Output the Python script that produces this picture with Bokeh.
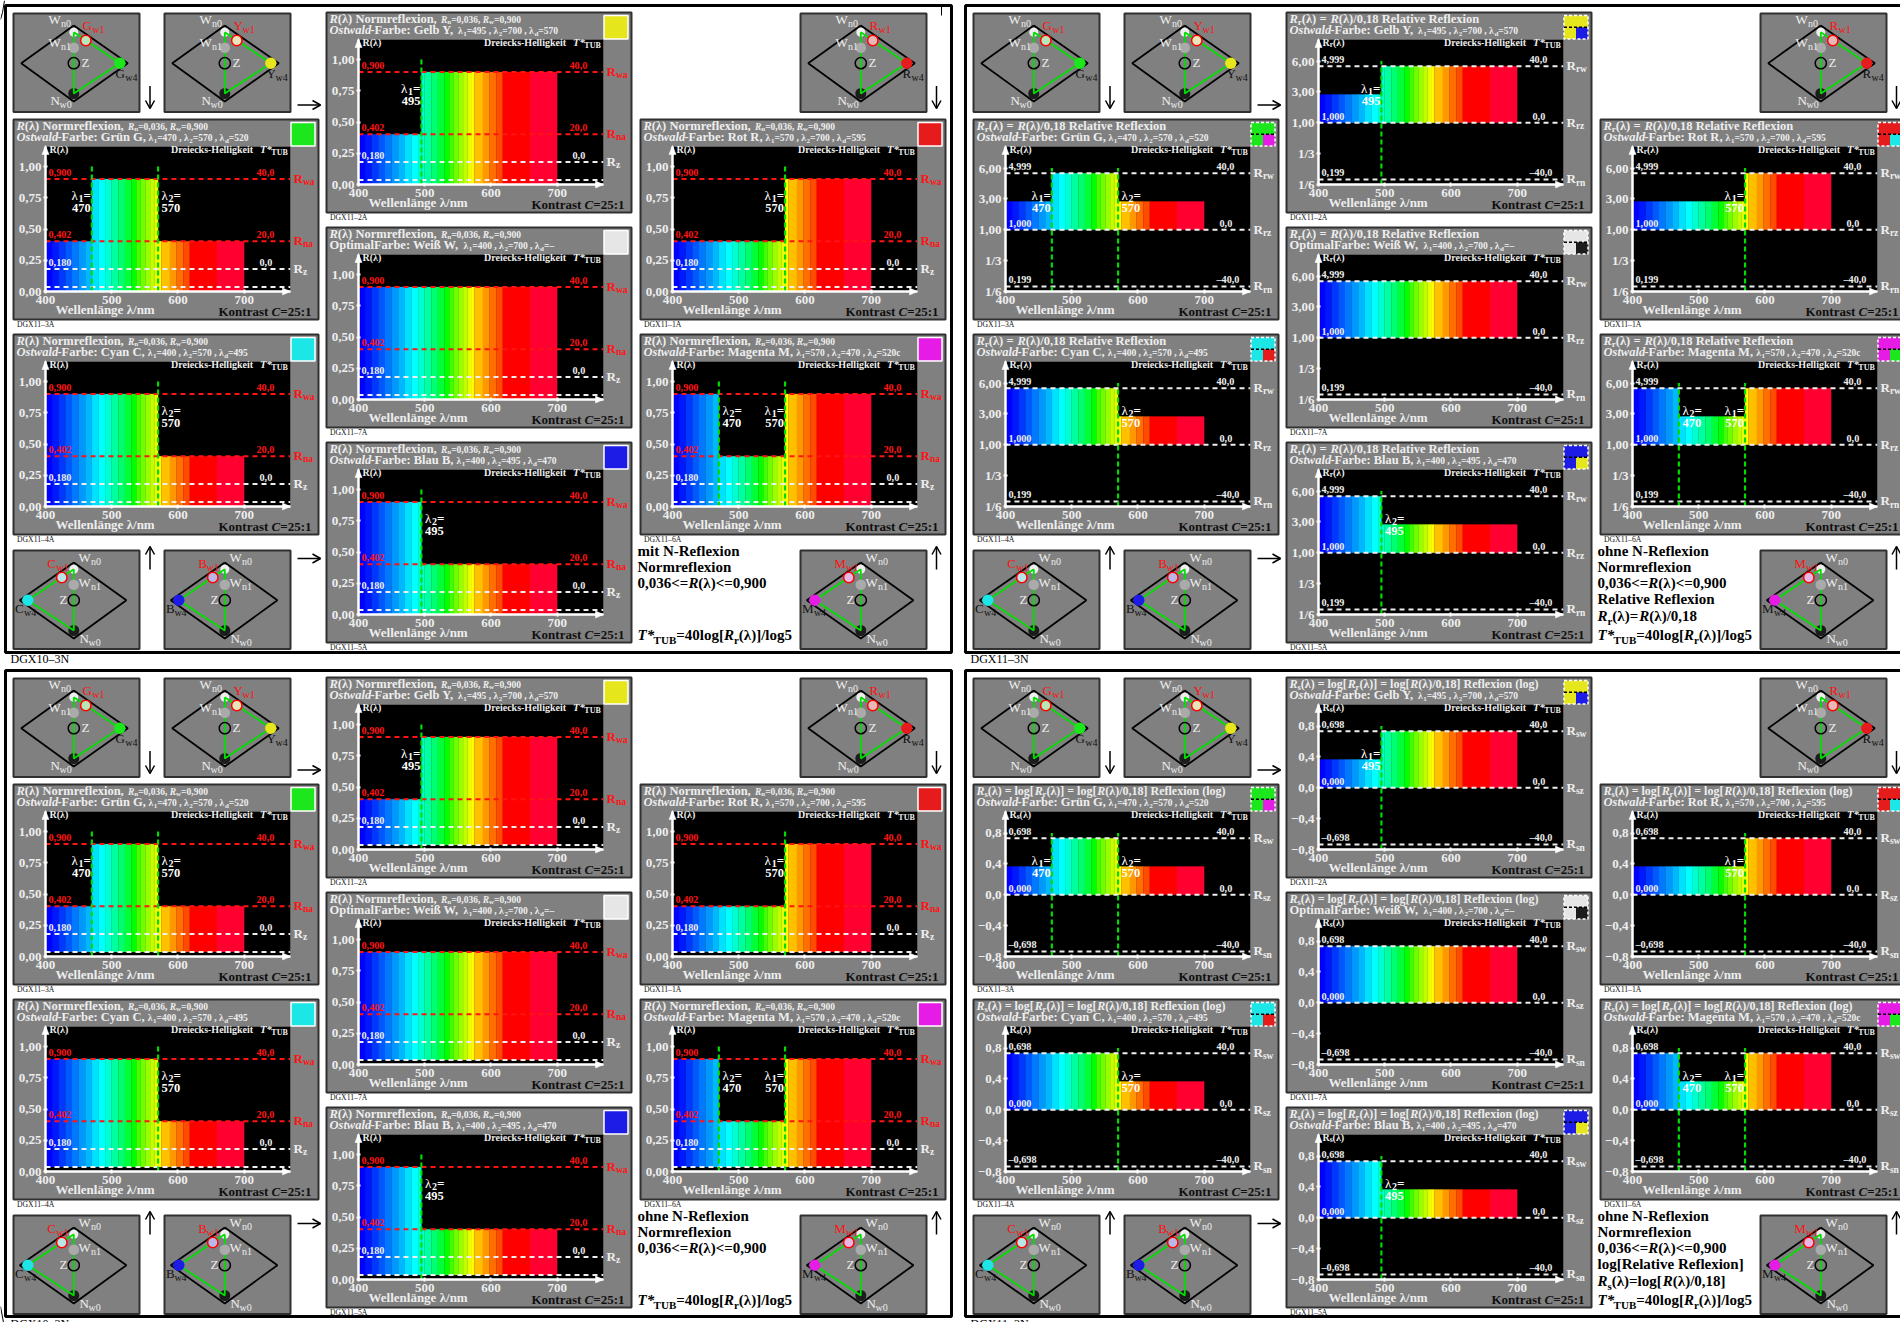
from bokeh.plotting import figure
from bokeh.layouts import column
from bokeh.models import ColumnDataSource, FixedTicker, Range1d
from bokeh.core.properties import value
from bokeh.embed import file_html
from bokeh.resources import INLINE

FONT = "Liberation Serif"
LIGHT = "#eeeeee"

# ---------- data ----------
BAND_EDGES = [400, 410, 420, 430, 440, 450, 460, 470, 480, 490, 500, 510, 520, 530, 537, 544, 551,
              558, 565, 570, 575, 588, 598, 608, 618, 659, 700]
BAND_COLORS = ["#0000ff", "#0018ff", "#0038ff", "#0058ff", "#0078ff", "#0098ff", "#00b8ff", "#00e0ff",
               "#00ffff", "#00ffd0", "#00ffa0", "#00ff70", "#00ff38", "#00ff00", "#40ff00", "#70ff00",
               "#98ff00", "#c0ff00", "#e8ff00", "#ffff00", "#ffc000", "#ff9800", "#ff7000", "#ff4c00",
               "#ff0000", "#ff0030"]

CHART_IDS = ["3A", "4A", "2A", "7A", "5A", "1A", "6A"]
COLOR_NAMES = {"3A": "Grün G", "4A": "Cyan C", "2A": "Gelb Y", "7A": "Weiß W", "5A": "Blau B", "1A": "Rot R", "6A": "Magenta M"}
LAMBDA_1 = {"3A": "470", "4A": "400", "2A": "495", "7A": "400", "5A": "400", "1A": "570", "6A": "570"}
LAMBDA_2 = {"3A": "570", "4A": "570", "2A": "700", "7A": "700", "5A": "495", "1A": "700", "6A": "470"}
LAMBDA_D = {"3A": "520", "4A": "495", "2A": "570", "7A": "–", "5A": "470", "1A": "595", "6A": "520c"}
BREAKS = {"3A": [400, 470, 570, 700], "4A": [400, 570, 700], "2A": [400, 495, 700], "7A": [400, 700],
          "5A": [400, 495, 700], "1A": [400, 570, 700], "6A": [400, 470, 570, 700]}
LEVELS = {"3A": "LHL", "4A": "HL", "2A": "LH", "7A": "H", "5A": "HL", "1A": "LH", "6A": "HLH"}
SWATCH = {"3A": "#1ce61c", "4A": "#1ce6e6", "2A": "#e6e61c", "7A": "#e6e6e6", "5A": "#1c1ce6", "1A": "#e61c1c", "6A": "#e61ce6"}
COMPLEMENT = {"3A": "#e61ce6", "4A": "#e61c1c", "2A": "#1c1ce6", "7A": "#1c1c1c", "5A": "#e6e61c", "1A": "#1ce6e6", "6A": "#1ce61c"}
# wavelength markers: (wavelength, label name, label side)
MARKS = {"3A": [(470, "1", "L"), (570, "2", "R")], "4A": [(570, "2", "R")], "2A": [(495, "1", "L")], "7A": [],
         "5A": [(495, "2", "R")], "1A": [(570, "1", "L")], "6A": [(470, "2", "R"), (570, "1", "L")]}

NORM_TICKS = [0.0, 0.25, 0.5, 0.75, 1.0]
NORM_LABELS = ["0,00", "0,25", "0,50", "0,75", "1,00"]
NORM_HIGH, NORM_LOW, NORM_MID, NORM_MIN = 0.900, 0.402, 0.180, 0.036
LOG_TICKS = [-0.76, -0.38, 0.0, 0.38, 0.76]
REL_LABELS = ["1/6", "1/3", "1,00", "3,00", "6,00"]
LOG_LABELS = ["−0,8", "−0,4", "0,0", "0,4", "0,8"]
LOG_HIGH, LOG_LOW, LOG_MIN = 0.698, 0.349, -0.698

DIAMOND_X = [60.3, 114.3, 60.3, 7.7, 60.3]
DIAMOND_Y = [12, 49.7, 88, 49.7, 12]
TOP_COLORS = [("G", "#1ce61c", "#b8e6b8"), ("Y", "#e6e61c", "#e6e6b8"), ("R", "#e61c1c", "#e6b8b8")]
BOTTOM_COLORS = [("C", "#1ce6e6", "#b8e6e6"), ("B", "#1c1ce6", "#b8b8e6"), ("M", "#e61ce6", "#e6b8e6")]

NOTES = {
    0: [[("mit N-Reflexion", "b")], [("Normreflexion", "b")], [("0,036<=", "b"), ("R", "i"), ("(λ)<=0,900", "b")], [], [], None],
    1: [[("ohne N-Reflexion", "b")], [("Normreflexion", "b")], [("0,036<=", "b"), ("R", "i"), ("(λ)<=0,900", "b")],
        [("Relative Reflexion", "b")], [("R", "i"), ("r", "s"), ("(λ)=", "b"), ("R", "i"), ("(λ)/0,18", "b")], None],
    2: [[("ohne N-Reflexion", "b")], [("Normreflexion", "b")], [("0,036<=", "b"), ("R", "i"), ("(λ)<=0,900", "b")], [], [], None],
    3: [[("ohne N-Reflexion", "b")], [("Normreflexion", "b")], [("0,036<=", "b"), ("R", "i"), ("(λ)<=0,900", "b")],
        [("log[Relative Reflexion]", "b")], [("R", "i"), ("s", "s"), ("(λ)=log[", "b"), ("R", "i"), ("(λ)/0,18]", "b")], None],
}
QUAD_NAMES = ["DGX10–3N", "DGX11–3N", "DGX10–3N", "DGX11–3N"]

# ---------- layout constants ----------
QDX, QDY = 960, 665
COL_X = {"3A": 13, "4A": 13, "2A": 326, "7A": 326, "5A": 326, "1A": 640, "6A": 640}
COL_Y = {"3A": 119, "4A": 334, "2A": 12, "7A": 227, "5A": 442, "1A": 119, "6A": 334}
PW, PH = 305, 200
ML, MT, FW, FH = 32, 27, 245, 145
XMAX = 770
GRAY = "#808080"
BORDER = "#303030"
BASELINE_FIX = 0.36

# ---------- text machinery ----------
AFM = dict(zip("ABCDEFGHIJKLMNOPQRSTUVWXYZ",
               [722, 667, 722, 722, 667, 611, 778, 778, 389, 500, 778, 667, 944, 722, 778, 611, 778, 722, 556, 667, 722, 722, 1000, 722, 722, 667]))
AFM.update(zip("abcdefghijklmnopqrstuvwxyz",
               [500, 556, 444, 556, 444, 333, 500, 556, 278, 333, 556, 278, 833, 556, 500, 556, 556, 444, 389, 333, 556, 500, 722, 500, 500, 444]))
AFM.update({" ": 250, ",": 250, ".": 250, "=": 570, "(": 333, ")": 333, "/": 278, ":": 333, "-": 333, "ß": 556, "ä": 500,
            "λ": 560, "*": 500, "<": 570, "[": 333, "]": 333, "–": 500, "−": 570})


def tw(s, size, style="bold"):
    k = 0.92 if "italic" in style else (0.97 if style == "normal" else 1.0)
    return sum(AFM.get(c, 500) for c in s) * size / 1000.0 * k


T = dict(x=[], y=[], t=[], sz=[], st=[], col=[])


def put(x, y, s, size, style="bold", color=LIGHT):
    T["x"].append(round(x, 1))
    T["y"].append(round(y - BASELINE_FIX * size, 1))
    T["t"].append(s)
    T["sz"].append(f"{size}px")
    T["st"].append(style)
    T["col"].append(color)


def runs(x, y, items, align="left"):
    """items: (text, size, style, color, baseline shift)"""
    if align == "right":
        x -= sum(tw(i[0], i[1], i[2]) for i in items)
    for s, size, style, color, dy in items:
        put(x, y + dy, s, size, style, color)
        x += tw(s, size, style)
    return x


# ---------- overlay ----------
ov = figure(width=1900, height=1322, x_range=Range1d(0, 1900), y_range=Range1d(1322, 0),
            output_backend="svg", toolbar_location=None, min_border=0, outline_line_color=None,
            background_fill_color=None, border_fill_color=None, x_axis_location=None, y_axis_location=None,
            frame_align=False, styles={"position": "absolute", "left": "0px", "top": "0px"})
ov.grid.visible = False

panels = dict(l=[], r=[], t=[], b=[])
tri_xs, tri_ys = [], []
swatch = dict(l=[], r=[], t=[], b=[], c=[])
outline_solid = dict(l=[], r=[], t=[], b=[])
outline_dash = dict(l=[], r=[], t=[], b=[])
mids = dict(xs=[], ys=[])
charts = []


def chart(q, cid, ox, oy):
    x0, y0 = COL_X[cid] + ox, COL_Y[cid] + oy
    w = min(PW, 1900 - x0)
    is_log = q in (1, 3)
    if is_log:
        ymin, ymax = -0.76, 1.026
        ticks, labels = LOG_TICKS, (REL_LABELS if q == 1 else LOG_LABELS)
        hi, lo, base = LOG_HIGH, LOG_LOW, 0.0
    else:
        ymin, ymax = 0.0, 1.16
        ticks, labels = NORM_TICKS, NORM_LABELS
        hi, lo, base = NORM_HIGH, NORM_LOW, (NORM_MIN if q == 2 else 0.0)
    p = figure(width=w, height=PH, x_range=Range1d(400, XMAX), y_range=Range1d(ymin, ymax), output_backend="svg",
               toolbar_location=None, min_border_left=ML, min_border_top=MT, min_border_right=w - ML - FW,
               min_border_bottom=PH - MT - FH, background_fill_color="#000000", border_fill_color=GRAY,
               outline_line_color=None, frame_align=False,
               styles={"position": "absolute", "left": f"{x0}px", "top": f"{y0}px"})
    p.grid.visible = False
    for ax in (p.xaxis[0], p.yaxis[0]):
        ax.axis_line_color = "#ffffff"
        ax.axis_line_width = 2.5
        ax.major_tick_line_color = "#ffffff"
        ax.major_tick_line_width = 2
        ax.major_tick_in = 2
        ax.major_tick_out = 2
        ax.minor_tick_line_color = None
        ax.major_label_text_font = FONT
        ax.major_label_text_font_style = "bold"
        ax.major_label_text_font_size = "13px"
        ax.major_label_text_color = LIGHT
        ax.major_label_standoff = 2
    p.xaxis[0].ticker = FixedTicker(ticks=[400, 500, 600, 700])
    p.xaxis[0].major_label_overrides = {400: "400", 500: "500", 600: "600", 700: "700"}
    p.yaxis[0].ticker = FixedTicker(ticks=ticks)
    p.yaxis[0].major_label_overrides = dict(zip(ticks, labels))

    # spectral bands
    left, right, top, cols = [], [], [], []
    br, lv = BREAKS[cid], LEVELS[cid]
    for i, c in enumerate(BAND_COLORS):
        for j, code in enumerate(lv):
            a, b = max(BAND_EDGES[i], br[j]), min(BAND_EDGES[i + 1], br[j + 1])
            if b > a:
                left.append(a)
                right.append(b)
                top.append(hi if code == "H" else lo)
                cols.append(c)
    p.quad(left=left, right=right, top=top, bottom=base, fill_color=cols, line_color=cols, line_width=0.3)

    def py(v):
        return y0 + MT + (ymax - v) * FH / (ymax - ymin)

    R_LEFT = x0 + 35
    R_TAG = x0 + 280
    R_NUM = x0 + 243
    red, wht = "#ff1414", LIGHT
    if is_log:
        tag = "r" if q == 1 else "s"
        nums = ["4,999", "1,000", "0,199"] if q == 1 else ["0,698", "0,000", "–0,698"]
        lines = [(LOG_HIGH, wht, nums[0], "40,0", tag + "w"), (0.0, wht, nums[1], "0,0", tag + "z"),
                 (LOG_MIN, wht, nums[2], "–40,0", tag + "n")]
    else:
        lines = [(NORM_HIGH, red, "0,900", "40,0", "wa"), (NORM_LOW, red, "0,402", "20,0", "na"),
                 (NORM_MID, wht, "0,180", "0,0", "z"), (NORM_MIN, wht, "", "", "")]
    for v, c, num, t_val, sub in lines:
        p.line([400, XMAX], [v, v], line_color=c, line_width=2, line_dash="5 4")
        yy = py(v)
        if num:
            put(R_LEFT, yy - 3, num, 10.2, "bold", c)
            put(R_NUM if len(t_val) > 3 else R_NUM + 3, yy - 3, t_val, 10.2, "bold", c)
            runs(R_TAG, yy + 4, [("R", 13, "bold", c, 0), (sub, 9.5, "bold", c, 2.5)])
    for wl, name, side in MARKS[cid]:
        p.line([wl, wl], [ymin, ticks[-1]], line_color="#00dc00", line_width=2.2, line_dash="5 3")
        xx = x0 + ML + (wl - 400) * FW / (XMAX - 400)
        y1, y2 = y0 + 81, y0 + 93
        lam = [("λ", 13, "normal", "#ffffff", 0), (name, 10, "bold", "#ffffff", 2), ("=", 13, "bold", "#ffffff", 0)]
        if side == "L":
            runs(xx - 1, y1, lam, "right")
            runs(xx - 1, y2, [(str(wl), 12.5, "bold", "#ffffff", 0)], "right")
        else:
            runs(xx + 3.5, y1, lam)
            runs(xx + 3.5, y2, [(str(wl), 12.5, "bold", "#ffffff", 0)])

    # titles and texts
    tx, ty1, ty2 = x0 + 3, y0 + 10.7, y0 + 22
    if q in (0, 2):
        e = runs(tx, ty1, [("R", 12.5, "bold italic", LIGHT, 0), ("(λ) Normreflexion, ", 12.5, "bold", LIGHT, 0)])
        runs(e, ty1, [("R", 9.5, "bold italic", LIGHT, 0), ("n", 7, "bold", LIGHT, 1.5), ("=0,036, ", 9.5, "bold", LIGHT, 0),
                      ("R", 9.5, "bold italic", LIGHT, 0), ("w", 7, "bold", LIGHT, 1.5), ("=0,900", 9.5, "bold", LIGHT, 0)])
    elif q == 1:
        runs(tx, ty1, [("R", 12.5, "bold italic", LIGHT, 0), ("r", 9, "bold", LIGHT, 2), ("(λ) = ", 12.5, "bold", LIGHT, 0),
                       ("R", 12.5, "bold italic", LIGHT, 0), ("(λ)/0,18 Relative Reflexion", 12.5, "bold", LIGHT, 0)])
    else:
        runs(tx, ty1, [("R", 12, "bold italic", LIGHT, 0), ("s", 8.5, "bold", LIGHT, 2), ("(λ) = log[", 12, "bold", LIGHT, 0),
                       ("R", 12, "bold italic", LIGHT, 0), ("r", 8.5, "bold", LIGHT, 2), ("(λ)] = log[", 12, "bold", LIGHT, 0),
                       ("R", 12, "bold italic", LIGHT, 0), ("(λ)/0,18] Reflexion (log)", 12, "bold", LIGHT, 0)])
    if cid == "7A":
        items = [("OptimalFarbe: Weiß W, ", 12.5, "bold", LIGHT, 0)]
    else:
        items = [("Ostwald", 12.5, "bold italic", LIGHT, 0), (f"-Farbe: {COLOR_NAMES[cid]}, ", 12.5, "bold", LIGHT, 0)]
    e = runs(tx, ty2, items)
    small = []
    for nm, val, sep in (("1", LAMBDA_1[cid], " , "), ("2", LAMBDA_2[cid], " , "), ("d", LAMBDA_D[cid], "")):
        small += [("λ", 9.5, "bold", LIGHT, 0), (nm, 7, "bold", LIGHT, 1.5), ("=" + val + sep, 9.5, "bold", LIGHT, 0)]
    runs(e, ty2, small)

    sub = {0: "", 2: "", 1: "r", 3: "s"}[q]
    inner = [("R", 10, "bold", LIGHT, 0)]
    if sub:
        inner.append((sub, 7.5, "bold", LIGHT, 1.5))
    inner.append(("(λ)", 10, "bold", LIGHT, 0))
    runs(x0 + 36, y0 + 33.5, inner)
    put(x0 + 157.5, y0 + 33.5, "Dreiecks-Helligkeit", 10, "bold", LIGHT)
    runs(x0 + 246.5, y0 + 33.5, [("T*", 10.5, "bold italic", LIGHT, 0), ("TUB", 8, "bold", LIGHT, 2)])
    runs(x0 + 42, y0 + PH - 5.6, [("Wellenlänge λ/nm", 13, "bold", LIGHT, 0)])
    runs(x0 + PW - 7, y0 + PH - 3, [("Kontrast ", 13, "bold", "#101010", 0), ("C", 13, "bold italic", "#101010", 0), ("=25:1", 13, "bold", "#101010", 0)], "right")
    put(x0 + 3.5, y0 + PH + 7.3, f"DGX11–{cid}", 7.7, "normal", "#101010")

    # panel frame, axis arrow heads, swatch
    panels["l"].append(x0); panels["r"].append(x0 + PW); panels["t"].append(y0); panels["b"].append(y0 + PH)
    ax, ay = x0 + ML, y0 + MT
    tri_xs.append([ax, ax - 3.5, ax + 3.5]); tri_ys.append([ay - 1, ay + 8, ay + 8])
    ex, ey = x0 + ML + FW, y0 + MT + FH
    tri_xs.append([ex, ex - 8, ex - 8]); tri_ys.append([ey, ey - 3.5, ey + 3.5])
    sl, sr, st, sb = x0 + 277.5, x0 + 301.5, y0 + 3, y0 + 26.5
    swatch["l"].append(sl); swatch["r"].append(sr); swatch["t"].append(st); swatch["b"].append(sb); swatch["c"].append(SWATCH[cid])
    target = outline_dash if is_log else outline_solid
    target["l"].append(sl); target["r"].append(sr); target["t"].append(st); target["b"].append(sb)
    if is_log:
        sm = (sl + sr) / 2
        sv = (st + sb) / 2
        swatch["l"].append(sm); swatch["r"].append(sr); swatch["t"].append(sv); swatch["b"].append(sb); swatch["c"].append(COMPLEMENT[cid])
        mids["xs"].append([sl, sr]); mids["ys"].append([sv, sv])
    charts.append(p)


for q in range(4):
    ox = QDX if q in (1, 3) else 0
    oy = QDY if q in (2, 3) else 0
    for cid in CHART_IDS:
        chart(q, cid, ox, oy)

# ---------- overlay drawing: frames, diamonds, arrows, notes ----------
diam_panels = dict(l=[], r=[], t=[], b=[])
dxs, dys, gxs, gys = [], [], [], []
under = dict(x=[], y=[], r=[], f=[])
above = dict(x=[], y=[], r=[], f=[], lc=[], lw=[])


def circle_under(x, y, r, f):
    under["x"].append(x); under["y"].append(y); under["r"].append(r); under["f"].append(f)


def circle_above(x, y, r, f, lc, lw):
    above["x"].append(x); above["y"].append(y); above["r"].append(r); above["f"].append(f); above["lc"].append(lc); above["lw"].append(lw)


def diamond(px, py, letter, col, pale, mirror):
    W = 126
    diam_panels["l"].append(px); diam_panels["r"].append(px + W); diam_panels["t"].append(py); diam_panels["b"].append(py + 98.5)
    mx = (lambda v: px + (120.6 - v if mirror else v))
    dxs.append([mx(v) for v in DIAMOND_X]); dys.append([py + v for v in DIAMOND_Y])
    n0, n1, g1, g4, nn = (60.3, 18.7), (60.3, 34.3), (72.3, 27), (106.3, 49.7), (60.3, 80)
    circle_under(mx(n0[0]), py + n0[1], 4.5, "#eeeeee")
    circle_under(mx(nn[0]), py + nn[1], 5.5, "#1c1c1c")
    gxs.append([mx(n0[0]), mx(g4[0]), mx(nn[0]), mx(n0[0])]); gys.append([py + n0[1], py + g4[1], py + nn[1], py + n0[1]])
    circle_above(mx(n1[0]), py + n1[1], 5.3, "#aaaaaa", None, 0)
    circle_above(mx(g4[0]), py + g4[1], 5.7, col, None, 0)
    circle_above(mx(g1[0]), py + g1[1], 5.2, pale, "#ff0000", 1.5)
    circle_above(mx(60.3), py + 49.7, 5.6, None, "#000000", 1.5)
    lab = lambda a, b: [(a, 13, "normal", LIGHT, 0), (b, 10, "normal", LIGHT, 3)]
    red = [(letter, 13, "normal", "#ff1010", 0), ("w1", 10, "normal", "#ff1010", 3)]
    blk = [(letter, 13, "normal", "#101010", 0), ("w4", 10, "normal", "#101010", 3)]
    if mirror:
        runs(px + 65, py + 12, lab("W", "n0"))
        runs(px + 33.7, py + 18, red)
        runs(px + 65, py + 37, lab("W", "n1"))
        put(px + 46, py + 54, "Z", 13, "normal", LIGHT)
        runs(px + 1.5, py + 63, blk)
        runs(px + 66, py + 93, lab("N", "w0"))
    else:
        runs(px + 35, py + 11, lab("W", "n0"))
        runs(px + 69, py + 17, red)
        runs(px + 35, py + 34, lab("W", "n1"))
        put(px + 68, py + 54, "Z", 13, "normal", LIGHT)
        runs(px + 102, py + 65, blk)
        runs(px + 37, py + 92, lab("N", "w0"))


arr_shaft_x, arr_shaft_y = [], []
for q in range(4):
    ox = QDX if q in (1, 3) else 0
    oy = QDY if q in (2, 3) else 0
    for (letter, col, pale), px in zip(TOP_COLORS, (13, 164, 800)):
        diamond(px + ox, 13 + oy, letter, col, pale, False)
    for (letter, col, pale), px in zip(BOTTOM_COLORS, (13, 164, 800)):
        diamond(px + ox, 550 + oy, letter, col, pale, True)
    for x_a, y_a, x_b, y_b in [(149.5, 85.5, 149.5, 108), (936, 85.5, 936, 108), (149.5, 569, 149.5, 546),
                               (936, 569, 936, 546), (297, 104.5, 320, 104.5), (297, 558, 320, 558)]:
        x_a += ox; x_b += ox; y_a += oy; y_b += oy
        arr_shaft_x.append([x_a, x_b]); arr_shaft_y.append([y_a, y_b])
        if x_a == x_b:
            s = 1 if y_b > y_a else -1
            arr_shaft_x.append([x_b - 4.5, x_b, x_b + 4.5]); arr_shaft_y.append([y_b - 8 * s, y_b, y_b - 8 * s])
        else:
            arr_shaft_x.append([x_b - 8, x_b, x_b - 8]); arr_shaft_y.append([y_b - 4.5, y_b, y_b + 4.5])
    # side notes
    base_x = 637 + ox
    for line, yy in zip(NOTES[q], (555.7, 572, 588, 604, 621, 640)):
        if line is None:
            items = [("T*", 15, "bold italic", "#000000", 0), ("TUB", 11, "bold", "#000000", 3),
                     ("=40log[", 15, "bold", "#000000", 0), ("R", 15, "bold italic", "#000000", 0),
                     ("r", 11, "bold", "#000000", 3), ("(λ)]/log5", 15, "bold", "#000000", 0)]
            runs(base_x, 640 + oy, items)
        elif line:
            items = []
            for s, k in line:
                if k == "b":
                    items.append((s, 15, "bold", "#000000", 0))
                elif k == "i":
                    items.append((s, 15, "bold italic", "#000000", 0))
                else:
                    items.append((s, 11, "bold", "#000000", 3))
            runs(base_x, yy + oy, items)
    put(10 + ox, 663 + oy, QUAD_NAMES[q], 12, "normal", "#000000")

ov.quad(left="l", right="r", top="t", bottom="b", source=ColumnDataSource(diam_panels), fill_color=GRAY,
        line_color=BORDER, line_width=2)
ov.multi_line(xs=dxs, ys=dys, line_color="#000000", line_width=1.8)
ov.circle(x="x", y="y", radius="r", fill_color="f", line_color=None, source=ColumnDataSource(under))
ov.multi_line(xs=gxs, ys=gys, line_color="#00e000", line_width=1.8)
ov.circle(x="x", y="y", radius="r", fill_color="f", line_color="lc", line_width="lw", source=ColumnDataSource(above))

ov.quad(left="l", right="r", top="t", bottom="b", source=ColumnDataSource(panels), fill_color=None,
        line_color=BORDER, line_width=2)
ov.patches(xs=tri_xs, ys=tri_ys, fill_color="#ffffff", line_color="#ffffff", line_width=0.5)
ov.quad(left="l", right="r", top="t", bottom="b", source=ColumnDataSource(swatch), fill_color="c", line_color=None)
ov.quad(left="l", right="r", top="t", bottom="b", source=ColumnDataSource(outline_solid), fill_color=None,
        line_color="#ffffff", line_width=1.5)
ov.quad(left="l", right="r", top="t", bottom="b", source=ColumnDataSource(outline_dash), fill_color=None,
        line_color="#ffffff", line_width=1.5, line_dash="3 2")
ov.multi_line(xs="xs", ys="ys", source=ColumnDataSource(mids), line_color="#000000", line_width=1.5, line_dash="3 2")

# outer frames
ov.quad(left=[5, 965, 5, 965], right=[951, 1911, 951, 1911], top=[5, 5, 670, 670], bottom=[652, 652, 1316, 1316],
        fill_color=None, line_color="#000000", line_width=3)
ov.multi_line(xs=[[941, 941], [4, 2, 0], [0, 3]], ys=[[5, 15], [0, 12, 19], [1306, 1322]], line_color="#000000", line_width=1)
ov.multi_line(xs=arr_shaft_x, ys=arr_shaft_y, line_color="#000000", line_width=1.5)

ov.text(x="x", y="y", text="t", text_font=value(FONT), text_font_size="sz", text_font_style="st", text_color="col",
        text_baseline="alphabetic", text_align="left", source=ColumnDataSource(T))

page = column(children=charts + [ov], width=1900, height=1322,
              styles={"position": "absolute", "left": "0px", "top": "0px"})
open("out.html", "w").write(file_html(page, INLINE))
